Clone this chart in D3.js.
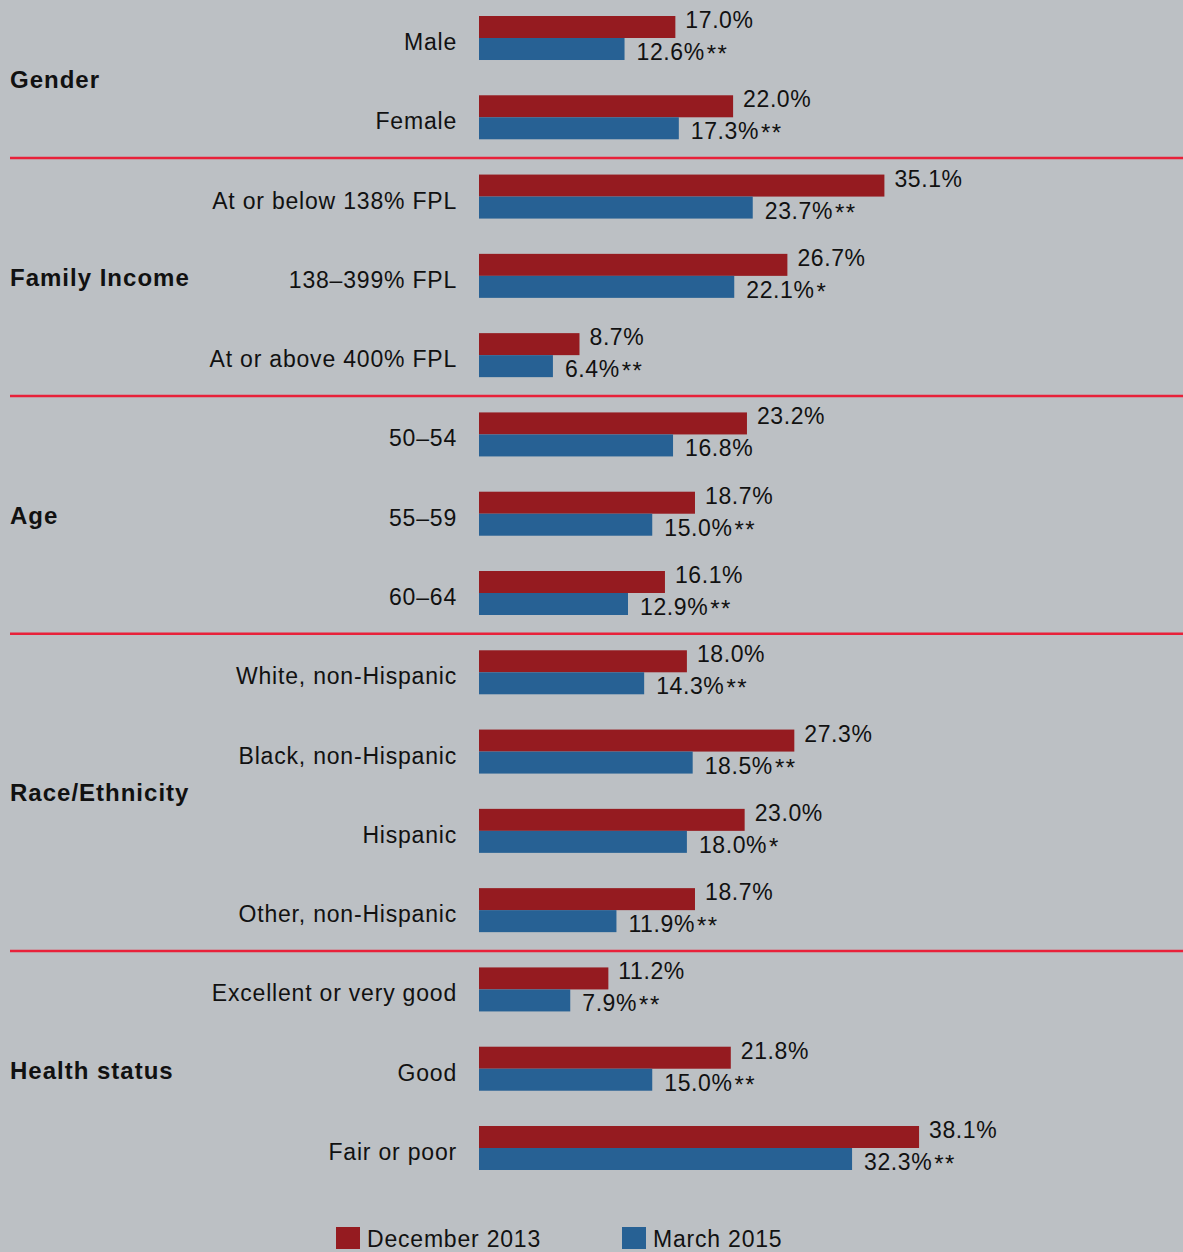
<!DOCTYPE html>
<html>
<head>
<meta charset="utf-8">
<script src="https://cdn.jsdelivr.net/npm/d3@7"></script>
<style>
  html, body { margin: 0; padding: 0; background: #bcc0c4; }
  #chart text { font-family: "Liberation Sans", Arial, sans-serif; fill: #111; }
  .cat { font-size: 23px; letter-spacing: 0.8px; }
  .val { font-size: 23px; letter-spacing: 0.6px; }
  .star { font-size: 24px; letter-spacing: 1.5px; }
  .grp { font-size: 24px; font-weight: bold; letter-spacing: 1px; }
  .leg { font-size: 23px; letter-spacing: 0.8px; }
</style>
</head>
<body>
<div id="chart"></div>
<script>
const categories = ["Male", "Female", "At or below 138% FPL", "138–399% FPL", "At or above 400% FPL",
  "50–54", "55–59", "60–64", "White, non-Hispanic", "Black, non-Hispanic", "Hispanic",
  "Other, non-Hispanic", "Excellent or very good", "Good", "Fair or poor"];
const groupOf = ["Gender", "Gender", "Family Income", "Family Income", "Family Income",
  "Age", "Age", "Age", "Race/Ethnicity", "Race/Ethnicity", "Race/Ethnicity", "Race/Ethnicity",
  "Health status", "Health status", "Health status"];
const dec2013 = [17.0, 22.0, 35.1, 26.7, 8.7, 23.2, 18.7, 16.1, 18.0, 27.3, 23.0, 18.7, 11.2, 21.8, 38.1];
const mar2015 = [12.6, 17.3, 23.7, 22.1, 6.4, 16.8, 15.0, 12.9, 14.3, 18.5, 18.0, 11.9, 7.9, 15.0, 32.3];
const signif = ["**", "**", "**", "*", "**", "", "**", "**", "**", "**", "*", "**", "**", "**", "**"];
const seriesNames = ["December 2013", "March 2015"];

const W = 1183, H = 1252;
const RED = "#951b20", BLUE = "#276194", SEP = "#e8213a";

const svg = d3.select("#chart").append("svg").attr("width", W).attr("height", H);
svg.append("rect").attr("width", W).attr("height", H).attr("fill", "#bcc0c4");

const rows = categories.map((c, i) => ({
  cat: c, group: groupOf[i], dec: dec2013[i], mar: mar2015[i], sig: signif[i], i
}));

const y = d3.scaleBand().domain(d3.range(rows.length)).range([16, 1170])
  .paddingInner(0.445).paddingOuter(0);
const x = d3.scaleLinear().domain([0, 40]).range([479, 941]);
const bh = y.bandwidth() / 2;

// group separators + group titles
const groups = d3.groups(rows, d => d.group);
groups.forEach(([name, rs], gi) => {
  const first = rs[0].i, last = rs[rs.length - 1].i;
  if (gi > 0) {
    svg.append("line")
      .attr("x1", 10).attr("x2", W)
      .attr("y1", y(first) - 16.5).attr("y2", y(first) - 16.5)
      .attr("stroke", SEP).attr("stroke-width", 2.5);
  }
  const mid = (y(first) + y(last) + y.bandwidth()) / 2;
  svg.append("text").attr("class", "grp")
    .attr("x", 10).attr("y", mid + 10).text(name);
});

const row = svg.selectAll("g.row").data(rows).join("g").attr("class", "row");

row.append("text").attr("class", "cat")
  .attr("x", 457).attr("y", d => y(d.i) + bh + 12)
  .attr("text-anchor", "end").text(d => d.cat);

row.append("rect")
  .attr("x", x(0)).attr("y", d => y(d.i))
  .attr("width", d => x(d.dec) - x(0)).attr("height", bh)
  .attr("fill", RED);
row.append("rect")
  .attr("x", x(0)).attr("y", d => y(d.i) + bh)
  .attr("width", d => x(d.mar) - x(0)).attr("height", bh)
  .attr("fill", BLUE);

const fmt = d3.format(".1f");
row.append("text").attr("class", "val")
  .attr("x", d => x(d.dec) + 10).attr("y", d => y(d.i) + 12)
  .text(d => fmt(d.dec) + "%");
const blueLbl = row.append("text").attr("class", "val")
  .attr("x", d => x(d.mar) + 12).attr("y", d => y(d.i) + 2 * bh);
blueLbl.append("tspan").text(d => fmt(d.mar) + "%");
blueLbl.append("tspan").attr("class", "star").attr("dx", 2).attr("dy", 2).text(d => d.sig);

// legend
const legX = [336, 622];
const leg = svg.selectAll("g.leg").data(seriesNames).join("g").attr("class", "leg")
  .attr("transform", (d, i) => `translate(${legX[i]},1227)`);
leg.append("rect").attr("width", 24).attr("height", 22)
  .attr("fill", (d, i) => i === 0 ? RED : BLUE);
leg.append("text").attr("class", "leg").attr("x", 31).attr("y", 20).text(d => d);
</script>
</body>
</html>
